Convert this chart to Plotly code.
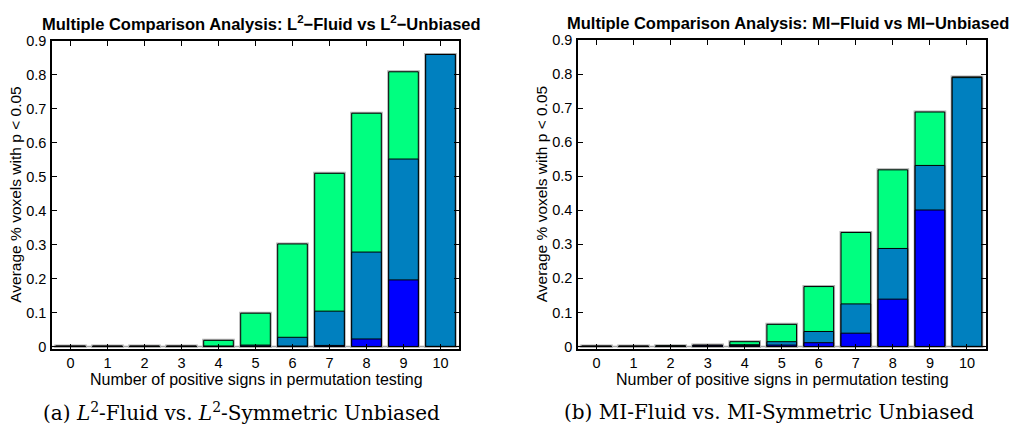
import plotly.graph_objects as go
from plotly.subplots import make_subplots

categories = list(range(11))
tick_labels = [str(c) for c in categories]
ytick_vals = [0, 0.1, 0.2, 0.3, 0.4, 0.5, 0.6, 0.7, 0.8, 0.9]
ytick_text = ["0", "0.1", "0.2", "0.3", "0.4", "0.5", "0.6", "0.7", "0.8", "0.9"]

# Panel (a): L2-Fluid vs L2-Unbiased (overlaid bar heights)
l2_green = [0.001, 0.001, 0.001, 0.001, 0.018, 0.098, 0.302, 0.510, 0.687, 0.809, 0.860]
l2_mid = [0.0005, 0.0005, 0.0005, 0.0005, 0.001, 0.004, 0.027, 0.104, 0.278, 0.552, 0.860]
l2_blue = [0.0, 0.0, 0.0, 0.0, 0.0, 0.001, 0.001, 0.003, 0.022, 0.196, 0.0]

# Panel (b): MI-Fluid vs MI-Unbiased
mi_green = [0.001, 0.001, 0.002, 0.004, 0.014, 0.065, 0.176, 0.335, 0.519, 0.689, 0.792]
mi_mid = [0.0005, 0.0005, 0.001, 0.003, 0.005, 0.014, 0.044, 0.125, 0.288, 0.532, 0.790]
mi_blue = [0.0, 0.0, 0.0005, 0.002, 0.003, 0.004, 0.011, 0.039, 0.139, 0.401, 0.0]

GREEN = "#00FF80"
MID = "#0080BF"
BLUE = "#0000FF"

W, H = 1010, 430
def px(x):
    return x / W
def py(y):
    return 1 - y / H

fig = make_subplots(rows=1, cols=2, horizontal_spacing=0.05)

panels = [(l2_green, l2_mid, l2_blue), (mi_green, mi_mid, mi_blue)]
for i, (g, m, b) in enumerate(panels, start=1):
    # gray halo underneath
    fig.add_trace(go.Bar(x=categories, y=g, width=0.8, marker=dict(color=GREEN, line=dict(color="#b0b0b0", width=3)),
                         showlegend=False, hoverinfo="skip"), row=1, col=i)
    for vals, col in ((g, GREEN), (m, MID), (b, BLUE)):
        fig.add_trace(go.Bar(x=categories, y=vals, width=0.8,
                             marker=dict(color=col, line=dict(color="black", width=1)),
                             showlegend=False), row=1, col=i)

tick_font = dict(family="Liberation Sans, Arial, sans-serif", size=14.5, color="black")
axis_font = dict(family="Liberation Sans, Arial, sans-serif", size=16, color="black")
ylab_font = dict(family="Liberation Sans, Arial, sans-serif", size=15.5, color="black")
xcommon = dict(range=[-0.5, 10.5], tickmode="array", tickvals=categories, ticktext=tick_labels,
               ticks="inside", ticklen=5, tickcolor="black", showline=True, linecolor="black",
               linewidth=1.5, mirror="ticks", showgrid=False, zeroline=False, tickfont=tick_font,
               ticklabelstandoff=0)
ycommon = dict(range=[-0.007, 0.9], tickmode="array", tickvals=ytick_vals, ticktext=ytick_text,
               ticks="inside", ticklen=5, tickcolor="black", showline=True, linecolor="black",
               linewidth=1.5, mirror="ticks", showgrid=False, zeroline=False, tickfont=tick_font,
               ticklabelstandoff=1)

fig.update_xaxes(**xcommon)
fig.update_yaxes(**ycommon)
fig.update_layout(
    xaxis=dict(domain=[px(52), px(459)]),
    xaxis2=dict(domain=[px(578), px(985.5)]),
    yaxis=dict(domain=[py(352.3), py(34)]),
    yaxis2=dict(domain=[py(352.3), py(33.3)]),
)

# baselines at zero
for i, (xr, yr) in enumerate((("x", "y"), ("x2", "y2"))):
    fig.add_shape(type="line", xref=xr, yref=yr, x0=-0.5, x1=10.5, y0=0, y1=0,
                  line=dict(color="#a0a0a0", width=1.5), layer="below")

fig.update_layout(
    barmode="overlay",
    width=W, height=H,
    margin=dict(l=0, r=0, t=0, b=0),
    paper_bgcolor="white", plot_bgcolor="white",
    font=dict(family="Liberation Sans, Arial, sans-serif", color="black"),
)

title_font = dict(family="Liberation Sans, Arial, sans-serif", size=16.5, color="black")
caption_font = dict(family="DejaVu Serif, Liberation Serif, serif", size=20, color="black")
annots = [
    dict(x=px(261.5), y=py(16), text="<b>Multiple Comparison Analysis: L<sup>2</sup>\u2212Fluid vs L<sup>2</sup>\u2212Unbiased</b>", font=title_font),
    dict(x=px(788), y=py(15), text="<b>Multiple Comparison Analysis: MI\u2212Fluid vs MI\u2212Unbiased</b>", font=title_font),
    dict(x=px(256), y=py(384), text="Number of positive signs in permutation testing", font=axis_font),
    dict(x=px(782), y=py(384), text="Number of positive signs in permutation testing", font=axis_font),
    dict(x=px(16), y=py(193), text="Average % voxels with p < 0.05", font=ylab_font, textangle=-90),
    dict(x=px(541.5), y=py(193), text="Average % voxels with p < 0.05", font=ylab_font, textangle=-90),
    dict(x=px(241.5), y=py(418), text="(a) <i>L</i><sup>2</sup>-Fluid vs. <i>L</i><sup>2</sup>-Symmetric Unbiased", font=caption_font),
    dict(x=px(769), y=py(418), text="(b) MI-Fluid vs. MI-Symmetric Unbiased", font=caption_font),
]
for a in annots:
    fig.add_annotation(xref="paper", yref="paper", showarrow=False, xanchor="center", yanchor="middle", **a)

fig.write_html("out.html")
